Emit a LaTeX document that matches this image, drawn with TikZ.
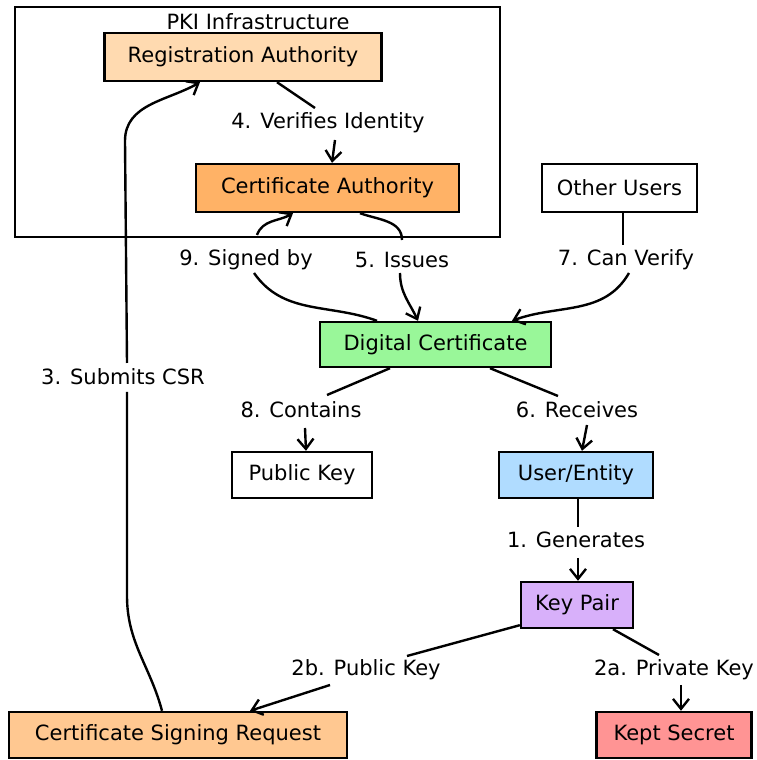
\documentclass[tikz,border=0pt]{standalone}
\usepackage{fontspec}
\setmainfont{DejaVu Sans}
\usetikzlibrary{arrows.meta}
\begin{document}
\begin{tikzpicture}[x=1pt,y=1pt,
  font=\fontsize{21}{24}\selectfont,
  box/.style={draw=black, line width=2.4pt, minimum height=46pt, inner sep=0pt},
  lbl/.style={inner sep=0pt},
  link/.style={line width=2.4pt, black},
  arr/.style={link, -{Straight Barb[length=10pt,width=16pt]}},
]
\useasboundingbox (0,0) rectangle (757,760);

% group frame
\draw[line width=2.4pt] (15,523) rectangle (500,753);
\node (title) at (258,738) {PKI Infrastructure};

% nodes
\node[box, fill={rgb,255:red,255;green,218;blue,176}, minimum width=277pt, minimum height=48pt] (ra) at (243,703) {Registration Authority};
\node[box, fill={rgb,255:red,255;green,178;blue,102}, minimum width=263pt, minimum height=48pt] (ca) at (327.5,572) {Certificate Authority};
\node[box, fill=white, minimum width=155pt, minimum height=48pt] (ou) at (619.5,572) {Other Users};
\node[box, fill={rgb,255:red,153;green,247;blue,153}, minimum width=231pt, minimum height=45pt] (dc) at (435.5,415.5) {Digital Certificate};
\node[box, fill=white, minimum width=140pt] (pk) at (302,285) {Public Key};
\node[box, fill={rgb,255:red,176;green,220;blue,255}, minimum width=154pt] (ue) at (576,285) {User/Entity};
\node[box, fill={rgb,255:red,216;green,176;blue,250}, minimum width=112pt] (kp) at (577,155) {Key Pair};
\node[box, fill={rgb,255:red,255;green,200;blue,145}, minimum width=338pt] (csr) at (178,25) {Certificate Signing Request};
\node[box, fill={rgb,255:red,255;green,148;blue,148}, minimum width=155pt] (ks) at (674,25) {Kept Secret};

% edge labels
\node[lbl] (l4) at (328,637) {4. Verifies Identity};
\node[lbl] (l9) at (246,500) {9. Signed by};
\node[lbl] (l5) at (402,500) {5. Issues};
\node[lbl] (l7) at (626,500) {7. Can Verify};
\node[lbl] (l8) at (301,350) {8. Contains};
\node[lbl] (l6) at (577,350) {6. Receives};
\node[lbl] (l1) at (576,220) {1. Generates};
\node[lbl] (l2b) at (366,90) {2b. Public Key};
\node[lbl] (l2a) at (674,90) {2a. Private Key};
\node[lbl] (l3) at (123,383) {3. Submits CSR};

% 4. Verifies Identity
\draw[link] ([xshift=34pt]ra.south) -- ([shift={(-13pt,15pt)}]l4.center);
\draw[arr] ([shift={(7pt,-17pt)}]l4.center) -- ([xshift=4.5pt]ca.north);

% 5. Issues
\draw[link] ([xshift=32.5pt]ca.south) to[out=-20,in=90] ([shift={(0pt,20pt)}]l5.center);
\draw[arr] ([shift={(-2pt,-13pt)}]l5.center) to[out=-90,in=115] ([xshift=-17.5pt]dc.north);

% 9. Signed by
\draw[link] ([xshift=-58.5pt]dc.north) to[out=160,in=-55] ([shift={(8pt,-13pt)}]l9.center);
\draw[arr] ([shift={(11pt,25pt)}]l9.center) to[out=70,in=210] ([xshift=-34.5pt]ca.south);

% 7. Can Verify
\draw[link] ([xshift=3.5pt]ou.south) -- ([shift={(-3pt,15pt)}]l7.center);
\draw[arr] ([shift={(3pt,-13pt)}]l7.center) to[out=-120,in=20] ([xshift=76.5pt]dc.north);

% 8. Contains
\draw[link] ([xshift=-45.5pt]dc.south) -- ([shift={(26pt,15pt)}]l8.center);
\draw[arr] ([shift={(4pt,-18pt)}]l8.center) -- ([xshift=4pt]pk.north);

% 6. Receives
\draw[link] ([xshift=54.5pt]dc.south) -- ([shift={(-19pt,14pt)}]l6.center);
\draw[arr] ([shift={(10pt,-15pt)}]l6.center) -- ([xshift=6pt]ue.north);

% 1. Generates
\draw[link] ([xshift=2pt]ue.south) -- ([shift={(2pt,13pt)}]l1.center);
\draw[arr] ([shift={(2pt,-18pt)}]l1.center) -- ([xshift=1pt]kp.north);

% 2b. Public Key
\draw[link] ([yshift=4pt]kp.south west) -- ([shift={(41pt,14pt)}]l2b.center);
\draw[arr] ([shift={(-36pt,-15pt)}]l2b.center) -- ([xshift=72pt]csr.north);

% 2a. Private Key
\draw[link] ([xshift=36pt]kp.south) -- ([shift={(-15pt,15pt)}]l2a.center);
\draw[arr] ([shift={(7pt,-15pt)}]l2a.center) -- ([xshift=7pt]ks.north);

% 3. Submits CSR
\draw[link] ([xshift=-16pt]csr.north) to[out=105,in=-90] ++(-35pt,115pt) -- ([shift={(4pt,-15pt)}]l3.center);
\draw[arr] ([shift={(4pt,14pt)}]l3.center) -- ++(-2pt,222pt) to[out=90,in=210] ([xshift=-43pt]ra.south);
\end{tikzpicture}
\end{document}
